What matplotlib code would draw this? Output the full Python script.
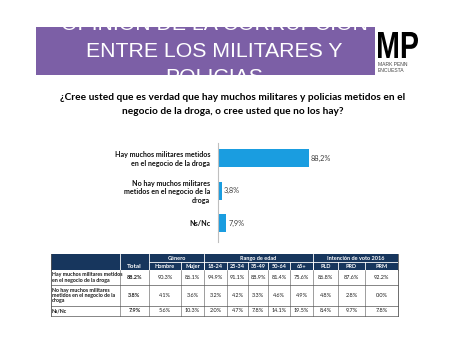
import matplotlib
matplotlib.use("Agg")
import matplotlib.pyplot as plt
from matplotlib.patches import Rectangle, PathPatch
from matplotlib.textpath import TextPath
from matplotlib.font_manager import FontProperties
from matplotlib.transforms import Affine2D

# ---------------- data ----------------
title = "OPINION DE LA CORRUPCION\nENTRE LOS MILITARES Y\nPOLICIAS"
question = ("¿Cree usted que es verdad que hay muchos militares y policias metidos en el\n"
            "negocio de la droga, o cree usted que no los hay?")
categories = ["Hay muchos militares metidos\nen el negocio de la droga",
              "No hay muchos militares\nmetidos en el negocio de la\ndroga",
              "Ns/Nc"]
values = [88.2, 3.8, 7.9]

table_rows = ["Hay muchos militares metidos\nen el negocio de la droga",
              "No hay muchos militares\nmetidos en el negocio de la\ndroga",
              "Ns/Nc"]
group_names = ["Género", "Rango de edad", "Intención de voto 2016"]
group_sizes = [2, 5, 3]
sub_headers = ["Total", "Hombre", "Mujer", "18-24", "25-34", "35-49", "50-64", "65+", "PLD", "PRD", "PRM"]
table_values = [
    ["88.2%", "90.3%", "86.1%", "94.9%", "91.1%", "88.9%", "81.4%", "75.6%", "86.8%", "87.6%", "92.2%"],
    ["3.8%", "4.1%", "3.6%", "3.2%", "4.2%", "3.3%", "4.6%", "4.9%", "4.8%", "2.8%", "0.0%"],
    ["7.9%", "5.6%", "10.3%", "2.0%", "4.7%", "7.8%", "14.1%", "19.5%", "8.4%", "9.7%", "7.8%"],
]

# ---------------- styles ----------------
W, H = 459, 345
PURPLE = "#7C5FA6"
BAR = "#1A9DE0"
NAVY = "#17365D"
FONT = "Lato"

fig = plt.figure(figsize=(W / 100, H / 100), dpi=100)
bg = fig.add_axes([0, 0, 1, 1])
bg.set_xlim(0, W)
bg.set_ylim(H, 0)
bg.axis("off")

# banner
banner = Rectangle((36, 27), 339, 48, facecolor=PURPLE, edgecolor="none")
bg.add_patch(banner)
for line, base in zip(title.split("\n"), [30, 57, 83]):
    t = bg.text(214, base, line, ha="center", va="baseline", fontsize=15.3,
                color="white", family="Liberation Sans")
    t.set_clip_path(banner)

# logo
tp = TextPath((0, 0), "MP", size=1, prop=FontProperties(family="Liberation Sans", weight="bold"))
ext = tp.get_extents()
tr = Affine2D().translate(-ext.x0, -ext.y0).scale(40 / ext.width, -26 / ext.height).translate(378, 58)
bg.add_patch(PathPatch(tr.transform_path(tp), facecolor="black", edgecolor="none"))
bg.text(378, 64, "MARK PENN", fontsize=3.6, color="#444444", va="center", family="Liberation Sans")
bg.text(378, 70, "ENCUESTA", fontsize=3.6, color="#444444", va="center", family="Liberation Sans")

# question
for line, yy in zip(question.split("\n"), [97, 112]):
    bg.text(233, yy, line, ha="center", va="center", fontsize=7.3, fontweight="bold",
            family=FONT, color="black")

# bar chart
ax = fig.add_axes([218 / W, (H - 242) / H, 103 / W, 99 / H])
ypos = list(range(len(categories)))
ax.barh(ypos, values, height=0.55, color=BAR)
ax.set_xlim(0, 100)
ax.set_ylim(2.58, -0.46)
ax.set_xticks([])
ax.set_yticks(ypos)
ax.set_yticklabels(categories, fontsize=5.1, fontweight="bold", family=FONT, linespacing=1.3,
                   color="#111111")
ax.tick_params(axis="y", length=0, pad=5.5)
for s in ["top", "right", "bottom"]:
    ax.spines[s].set_visible(False)
ax.spines["left"].set_color("#BFBFBF")
ax.spines["left"].set_linewidth(0.8)
ax.patch.set_alpha(0)
for i, v in enumerate(values):
    ax.annotate(f"{v:.1f}%".replace(".", ","), xy=(v, i), xytext=(1.5, 0),
                textcoords="offset points", va="center", ha="left",
                fontsize=5.3, color="#404040", family=FONT, annotation_clip=False)

# table
xs = [51, 120, 149, 181, 204, 227, 248, 268, 290, 313, 338, 365, 398]
ys = [254, 262, 270, 285, 306, 316]
fs = 4.0
bg.add_patch(Rectangle((xs[0], ys[0]), xs[-1] - xs[0], ys[2] - ys[0], facecolor=NAVY, edgecolor="none"))
# header white separators
bg.plot([xs[2], xs[-1]], [ys[1], ys[1]], color="white", lw=0.6)
bounds = [1, 2]
acc = 2
for g in group_sizes:
    acc += g
    bounds.append(acc)
for b in bounds[:-1]:
    bg.plot([xs[b], xs[b]], [ys[0], ys[2]], color="white", lw=0.6)
for c in range(3, len(xs) - 1):
    bg.plot([xs[c], xs[c]], [ys[1], ys[2]], color="white", lw=0.6)
# group names
start = 2
for name, g in zip(group_names, group_sizes):
    bg.text((xs[start] + xs[start + g]) / 2, (ys[0] + ys[1]) / 2 + 0.3, name, ha="center", va="center",
            fontsize=fs, color="white", fontweight="bold", family=FONT)
    start += g
# sub headers
for j, h in enumerate(sub_headers):
    c = j + 1
    yy = (ys[1] + ys[2]) / 2 + 0.3
    bg.text((xs[c] + xs[c + 1]) / 2, yy, h, ha="center", va="center",
            fontsize=fs + (0.6 if j == 0 else 0), color="white", fontweight="bold", family=FONT)
# body
for r, (lab, row) in enumerate(zip(table_rows, table_values)):
    y0, y1 = ys[r + 2], ys[r + 3]
    ym = (y0 + y1) / 2
    bg.text(xs[0] + 0.8, ym, lab, ha="left", va="center", fontsize=3.75, family=FONT,
            fontweight="bold", color="#1a1a1a", linespacing=1.1)
    for j, val in enumerate(row):
        c = j + 1
        bg.text((xs[c] + xs[c + 1]) / 2, ym, val, ha="center", va="center", fontsize=fs,
                family=FONT, color="#1a1a1a", fontweight="bold" if j == 0 else "normal")
    bg.plot([xs[0], xs[-1]], [y1, y1], color="#555555", lw=0.5)
for c in range(len(xs)):
    lw = 0.6 if c in (0, len(xs) - 1) else 0.4
    bg.plot([xs[c], xs[c]], [ys[2], ys[-1]], color="#555555", lw=lw)
bg.plot([xs[0], xs[0]], [ys[0], ys[2]], color="#555555", lw=0.6)
bg.plot([xs[-1], xs[-1]], [ys[0], ys[2]], color="#555555", lw=0.6)

fig.savefig("out.png", dpi=100)
